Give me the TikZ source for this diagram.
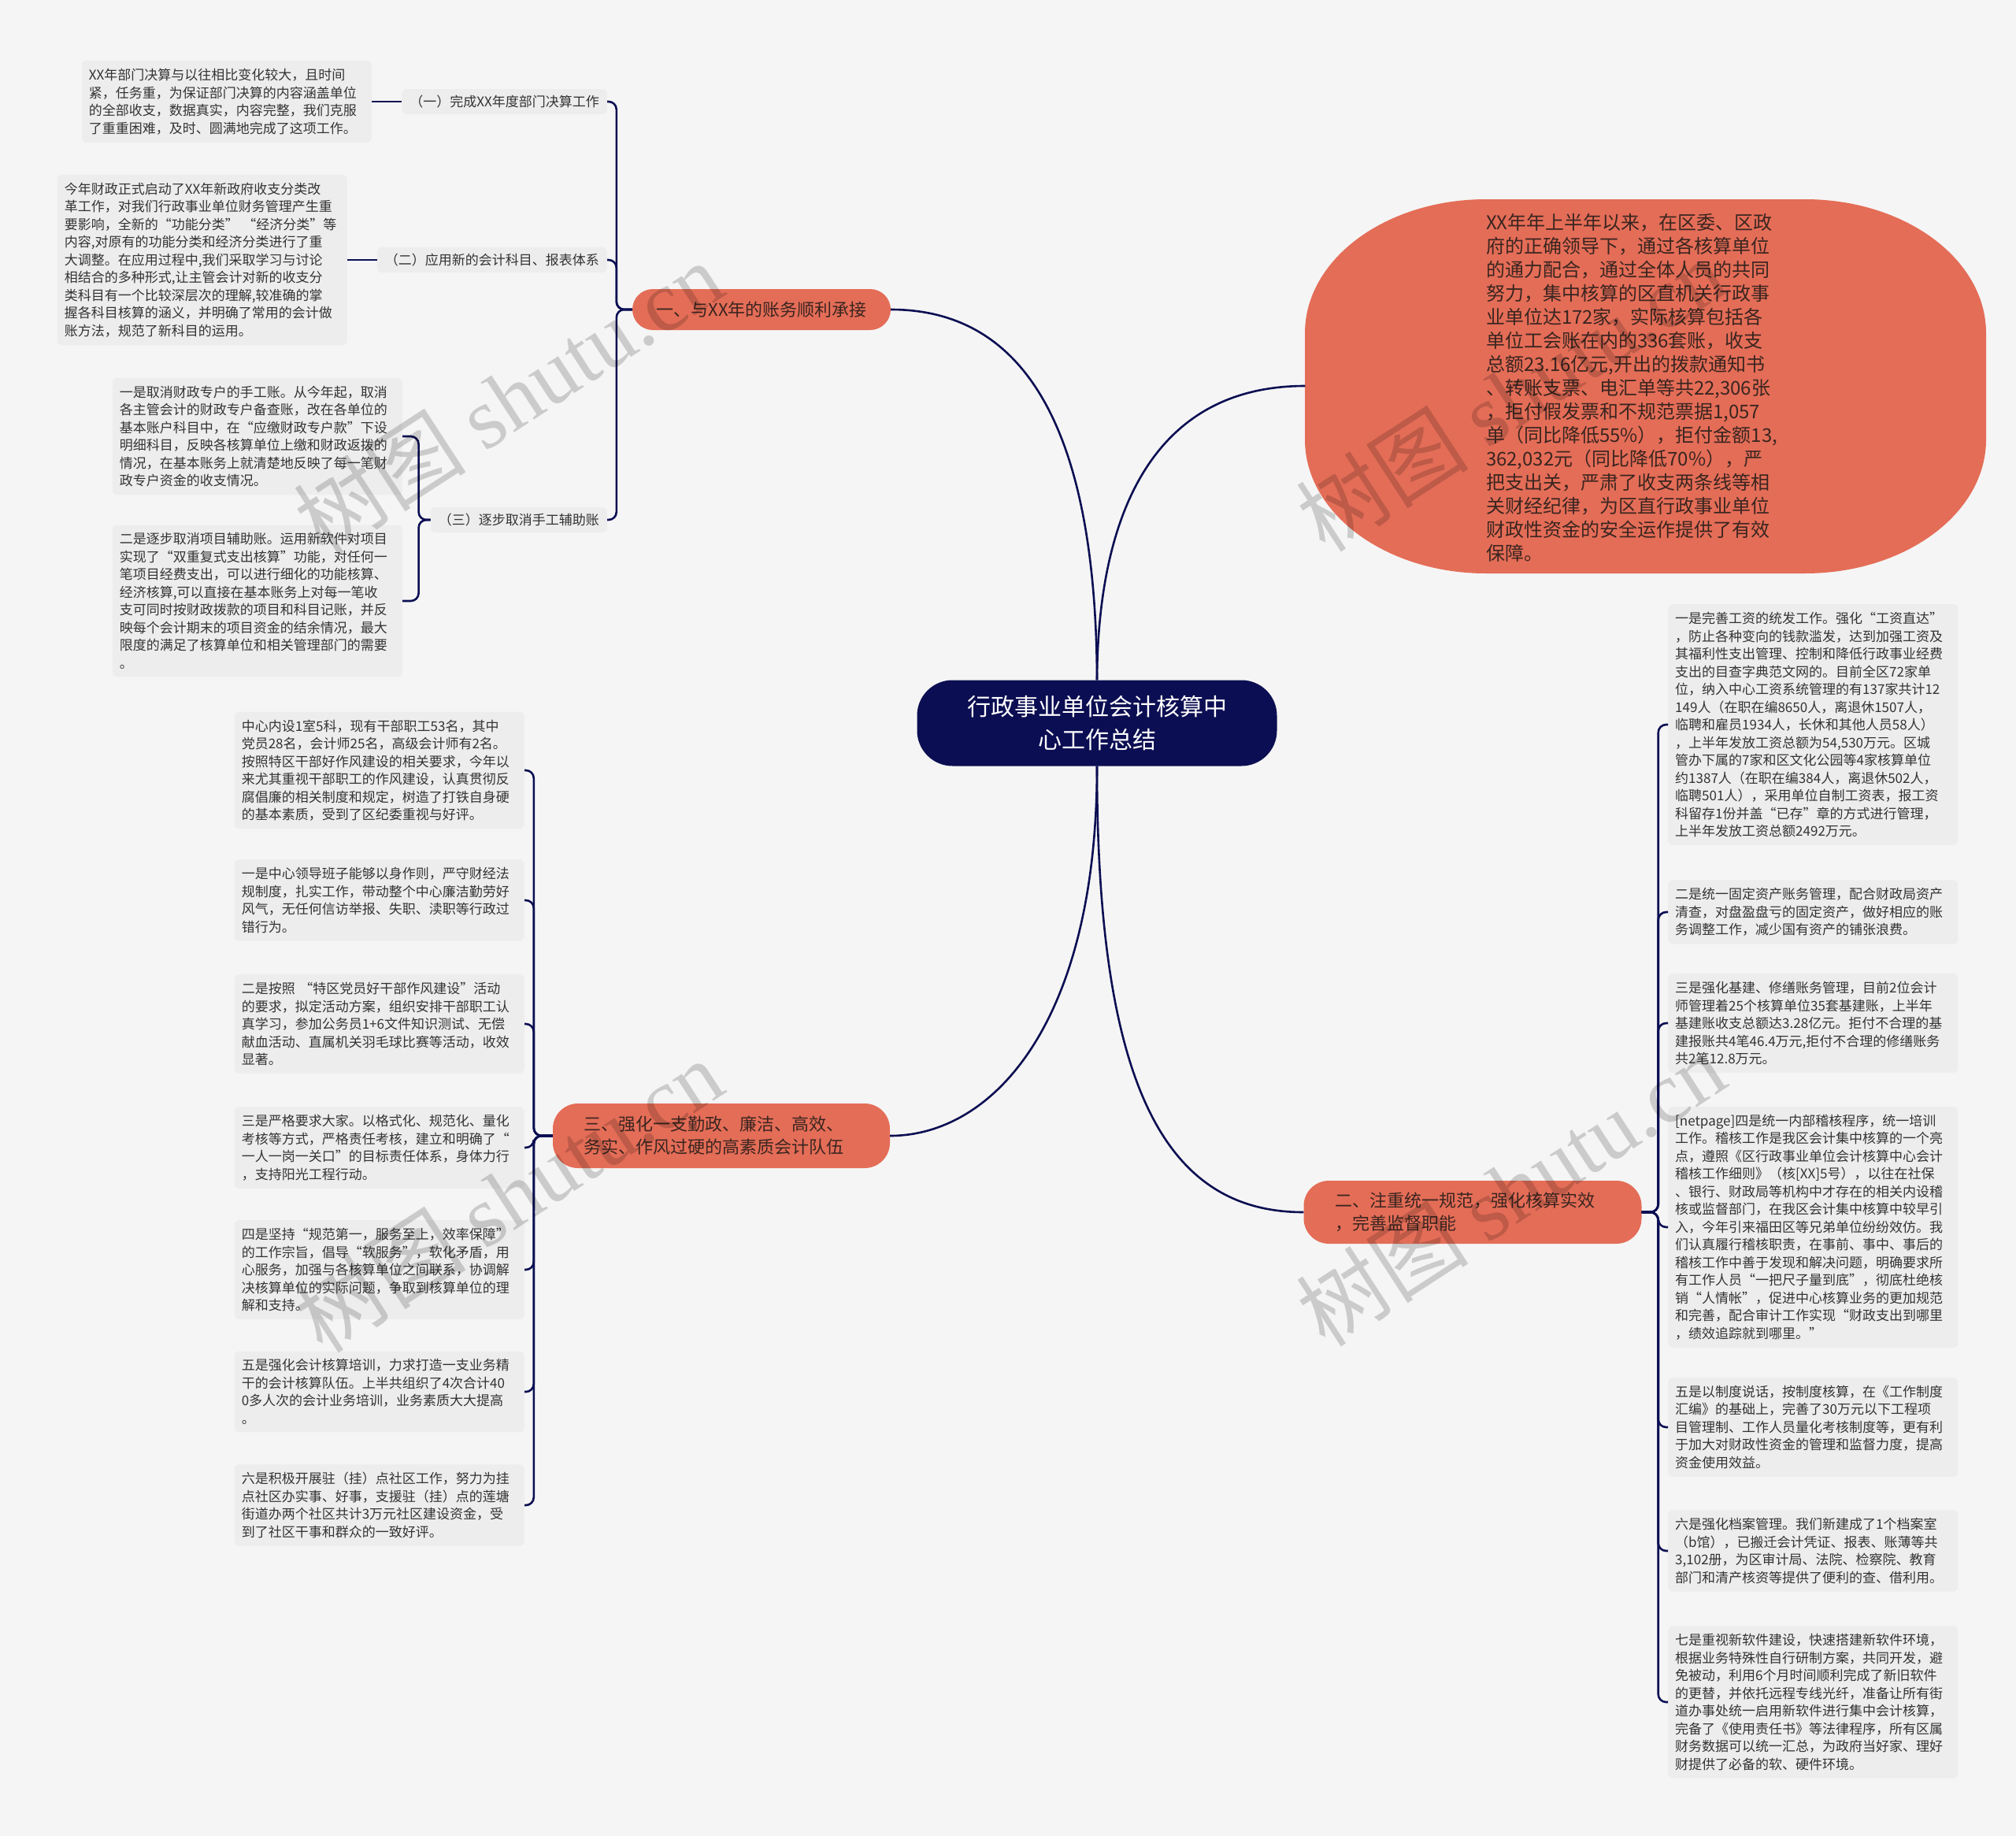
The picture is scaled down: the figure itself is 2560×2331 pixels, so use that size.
\documentclass[tikz,border=0pt]{standalone}
\usepackage{fontspec}
\setmainfont{Noto Sans CJK SC}
\newfontfamily\wmfont{Liberation Serif}
\definecolor{bgc}{HTML}{F5F5F5}
\definecolor{leafc}{HTML}{EDEDED}
\definecolor{salmonc}{HTML}{E46D57}
\definecolor{navyc}{HTML}{0B0E52}
\definecolor{leaftext}{HTML}{333333}
\definecolor{branchtext}{HTML}{3A2520}
\begin{document}
\begin{tikzpicture}[x=1pt,y=-1pt,
 conn/.style={draw=navyc, line width=2.6pt},
 fan/.style={conn, rounded corners=10pt},
 leafbox/.style={fill=leafc, rounded corners=6pt, text width=350pt, align=left, inner xsep=9pt, inner ysep=10pt, font=\fontsize{17}{22.5}\selectfont, text=leaftext},
 subbox/.style={fill=leafc, rounded corners=6pt, inner xsep=10pt, minimum height=32pt, font=\fontsize{17}{22.5}\selectfont, text=leaftext},
 branchbox/.style={fill=salmonc, text=branchtext, font=\fontsize{22}{29}\selectfont},
 rootbox/.style={fill=navyc, text=white, rounded corners=45pt, minimum width=457pt, minimum height=109pt, align=center, font=\fontsize{30}{42}\selectfont},
 wm/.style={rotate=33, text=black, text opacity=0.17, font=\fontsize{110}{120}\selectfont}
]
\useasboundingbox (0,0) rectangle (2560,2331);
\fill[bgc] (0,0) rectangle (2560,2331);

% big rounded shape
\fill[salmonc] (1887,253) -- (2292,253)
  .. controls (2419,253) and (2522,329) .. (2522,423) -- (2522,558)
  .. controls (2522,652) and (2419,728) .. (2292,728) -- (1887,728)
  .. controls (1760,728) and (1657,652) .. (1657,558) -- (1657,423)
  .. controls (1657,329) and (1760,253) .. (1887,253) -- cycle;
\node[minimum width=865pt, minimum height=475pt, inner sep=0pt] (E) at (2090,490) {};
\node[font=\fontsize{24}{30}\selectfont, text=branchtext, align=left, text width=350pt, inner sep=0pt] (Et) at (2062,492) {XX年年上半年以来，在区委、区政\\
府的正确领导下，通过各核算单位\\
的通力配合，通过全体人员的共同\\
努力，集中核算的区直机关行政事\\
业单位达172家，实际核算包括各\\
单位工会账在内的336套账，收支\\
总额23.16亿元,开出的拨款通知书\\
、转账支票、电汇单等共22,306张\\
，拒付假发票和不规范票据1,057\\
单（同比降低55\%），拒付金额13,\\
362,032元（同比降低70\%），严\\
把支出关，严肃了收支两条线等相\\
关财经纪律，为区直行政事业单位\\
财政性资金的安全运作提供了有效\\
保障。};

% center and branches
\node[rootbox] (C) at (1393,918) {行政事业单位会计核算中\\心工作总结};
\node[branchbox, minimum width=328pt, minimum height=52pt, rounded corners=26pt] (B1) at (967,393) {一、与XX年的账务顺利承接};
\node[branchbox, text width=350pt, inner xsep=39pt, minimum height=82pt, rounded corners=32pt, align=left] (B3) at (916,1442) {三、强化一支勤政、廉洁、高效、\\务实、作风过硬的高素质会计队伍};
\node[branchbox, text width=349pt, inner xsep=40pt, minimum height=80pt, rounded corners=32pt, align=left] (B2) at (1870,1539) {二、注重统一规范，强化核算实效\\，完善监督职能};

% branch 1 children
\node[subbox, anchor=east] (n1) at (771,129) {（一）完成XX年度部门决算工作};
\node[subbox, anchor=east] (n2) at (771,330) {（二）应用新的会计科目、报表体系};
\node[subbox, anchor=east] (n3) at (771,660) {（三）逐步取消手工辅助账};

\node[leafbox, anchor=east] (A1) at (472,129) {XX年部门决算与以往相比变化较大，且时间\\
紧，任务重，为保证部门决算的内容涵盖单位\\
的全部收支，数据真实，内容完整，我们克服\\
了重重困难，及时、圆满地完成了这项工作。};
\node[leafbox, anchor=east] (A2) at (441,330) {今年财政正式启动了XX年新政府收支分类改\\
革工作，对我们行政事业单位财务管理产生重\\
要影响，全新的“功能分类”~“经济分类”等\\
内容,对原有的功能分类和经济分类进行了重\\
大调整。在应用过程中,我们采取学习与讨论\\
相结合的多种形式,让主管会计对新的收支分\\
类科目有一个比较深层次的理解,较准确的掌\\
握各科目核算的涵义，并明确了常用的会计做\\
账方法，规范了新科目的运用。};
\node[leafbox, anchor=east] (A3a) at (511,554) {一是取消财政专户的手工账。从今年起，取消\\
各主管会计的财政专户备查账，改在各单位的\\
基本账户科目中，在“应缴财政专户款”下设\\
明细科目，反映各核算单位上缴和财政返拨的\\
情况，在基本账务上就清楚地反映了每一笔财\\
政专户资金的收支情况。};
\node[leafbox, anchor=east] (A3b) at (511,763) {二是逐步取消项目辅助账。运用新软件对项目\\
实现了“双重复式支出核算”功能，对任何一\\
笔项目经费支出，可以进行细化的功能核算、\\
经济核算,可以直接在基本账务上对每一笔收\\
支可同时按财政拨款的项目和科目记账，并反\\
映每个会计期末的项目资金的结余情况，最大\\
限度的满足了核算单位和相关管理部门的需要\\
。};

% branch 3 children
\node[leafbox, anchor=east] (L0) at (666,978) {中心内设1室5科，现有干部职工53名，其中\\
党员28名，会计师25名，高级会计师有2名。\\
按照特区干部好作风建设的相关要求，今年以\\
来尤其重视干部职工的作风建设，认真贯彻反\\
腐倡廉的相关制度和规定，树造了打铁自身硬\\
的基本素质，受到了区纪委重视与好评。};
\node[leafbox, anchor=east] (L1) at (666,1143) {一是中心领导班子能够以身作则，严守财经法\\
规制度，扎实工作，带动整个中心廉洁勤劳好\\
风气，无任何信访举报、失职、渎职等行政过\\
错行为。};
\node[leafbox, anchor=east] (L2) at (666,1300) {二是按照~“特区党员好干部作风建设”活动\\
的要求，拟定活动方案，组织安排干部职工认\\
真学习，参加公务员1+6文件知识测试、无偿\\
献血活动、直属机关羽毛球比赛等活动，收效\\
显著。};
\node[leafbox, anchor=east] (L3) at (666,1457) {三是严格要求大家。以格式化、规范化、量化\\
考核等方式，严格责任考核，建立和明确了“\\
一人一岗一关口”的目标责任体系，身体力行\\
，支持阳光工程行动。};
\node[leafbox, anchor=east] (L4) at (666,1612) {四是坚持“规范第一，服务至上，效率保障”\\
的工作宗旨，倡导“软服务”，软化矛盾，用\\
心服务，加强与各核算单位之间联系，协调解\\
决核算单位的实际问题，争取到核算单位的理\\
解和支持。};
\node[leafbox, anchor=east] (L5) at (666,1767) {五是强化会计核算培训，力求打造一支业务精\\
干的会计核算队伍。上半共组织了4次合计40\\
0多人次的会计业务培训，业务素质大大提高\\
。};
\node[leafbox, anchor=east] (L6) at (666,1911) {六是积极开展驻（挂）点社区工作，努力为挂\\
点社区办实事、好事，支援驻（挂）点的莲塘\\
街道办两个社区共计3万元社区建设资金，受\\
到了社区干事和群众的一致好评。};

% branch 2 children
\node[leafbox, anchor=west] (R1) at (2118,920) {一是完善工资的统发工作。强化“工资直达”\\
，防止各种变向的钱款滥发，达到加强工资及\\
其福利性支出管理、控制和降低行政事业经费\\
支出的目查字典范文网的。目前全区72家单\\
位，纳入中心工资系统管理的有137家共计12\\
149人（在职在编8650人，离退休1507人，\\
临聘和雇员1934人，长休和其他人员58人）\\
，上半年发放工资总额为54,530万元。区城\\
管办下属的7家和区文化公园等4家核算单位\\
约1387人（在职在编384人，离退休502人，\\
临聘501人），采用单位自制工资表，报工资\\
科留存1份并盖“已存”章的方式进行管理，\\
上半年发放工资总额2492万元。};
\node[leafbox, anchor=west] (R2) at (2118,1158) {二是统一固定资产账务管理，配合财政局资产\\
清查，对盘盈盘亏的固定资产，做好相应的账\\
务调整工作，减少国有资产的铺张浪费。};
\node[leafbox, anchor=west] (R3) at (2118,1299) {三是强化基建、修缮账务管理，目前2位会计\\
师管理着25个核算单位35套基建账，上半年\\
基建账收支总额达3.28亿元。拒付不合理的基\\
建报账共4笔46.4万元,拒付不合理的修缮账务\\
共2笔12.8万元。};
\node[leafbox, anchor=west] (R4) at (2118,1558) {{[}netpage{]}四是统一内部稽核程序，统一培训\\
工作。稽核工作是我区会计集中核算的一个亮\\
点，遵照《区行政事业单位会计核算中心会计\\
稽核工作细则》（核{[}XX{]}5号），以往在社保\\
、银行、财政局等机构中才存在的相关内设稽\\
核或监督部门，在我区会计集中核算中较早引\\
入，今年引来福田区等兄弟单位纷纷效仿。我\\
们认真履行稽核职责，在事前、事中、事后的\\
稽核工作中善于发现和解决问题，明确要求所\\
有工作人员“一把尺子量到底”，彻底杜绝核\\
销“人情帐”，促进中心核算业务的更加规范\\
和完善，配合审计工作实现“财政支出到哪里\\
，绩效追踪就到哪里。”};
\node[leafbox, anchor=west] (R5) at (2118,1812) {五是以制度说话，按制度核算，在《工作制度\\
汇编》的基础上，完善了30万元以下工程项\\
目管理制、工作人员量化考核制度等，更有利\\
于加大对财政性资金的管理和监督力度，提高\\
资金使用效益。};
\node[leafbox, anchor=west] (R6) at (2118,1969) {六是强化档案管理。我们新建成了1个档案室\\
（b馆），已搬迁会计凭证、报表、账薄等共\\
3,102册，为区审计局、法院、检察院、教育\\
部门和清产核资等提供了便利的查、借利用。};
\node[leafbox, anchor=west] (R7) at (2118,2161) {七是重视新软件建设，快速搭建新软件环境，\\
根据业务特殊性自行研制方案，共同开发，避\\
免被动，利用6个月时间顺利完成了新旧软件\\
的更替，并依托远程专线光纤，准备让所有街\\
道办事处统一启用新软件进行集中会计核算，\\
完备了《使用责任书》等法律程序，所有区属\\
财务数据可以统一汇总，为政府当好家、理好\\
财提供了必备的软、硬件环境。};

% connectors from center
\draw[conn] (B1.east) .. controls (1330,393) and (1392,600) .. (C.north);
\draw[conn] (E.west) .. controls (1460,490) and (1394,660) .. (C.north);
\draw[conn] (C.south) .. controls (1393,1300) and (1260,1442) .. (B3.east);
\draw[conn] (C.south) .. controls (1393,1380) and (1480,1539) .. (B2.west);

% branch 1 fan
\draw[fan] (B1.west) -- ++(-20,0) |- (n1.east);
\draw[fan] (B1.west) -- ++(-20,0) |- (n2.east);
\draw[fan] (B1.west) -- ++(-20,0) |- (n3.east);
\draw[conn] (A1.east) -- (n1.west);
\draw[conn] (A2.east) -- (n2.west);
\draw[fan] (n3.west) -- ++(-15,0) |- (A3a.east);
\draw[fan] (n3.west) -- ++(-15,0) |- (A3b.east);

% branch 3 fan
\foreach \k in {L0,L1,L2,L3,L4,L5,L6}{
  \draw[fan] (B3.west) -- ++(-24,0) |- (\k.east);
}
% branch 2 fan
\foreach \k in {R1,R2,R3,R4,R5,R6,R7}{
  \draw[fan] (B2.east) -- ++(21,0) |- (\k.west);
}

% watermarks
\node[wm] (W1) at (645,505) {树图 {\wmfont shutu.cn}};
\node[wm] (W2) at (1918,501) {树图 {\wmfont shutu.cn}};
\node[wm] (W3) at (645,1518) {树图 {\wmfont shutu.cn}};
\node[wm] (W4) at (1918,1510) {树图 {\wmfont shutu.cn}};
\end{tikzpicture}
\end{document}
